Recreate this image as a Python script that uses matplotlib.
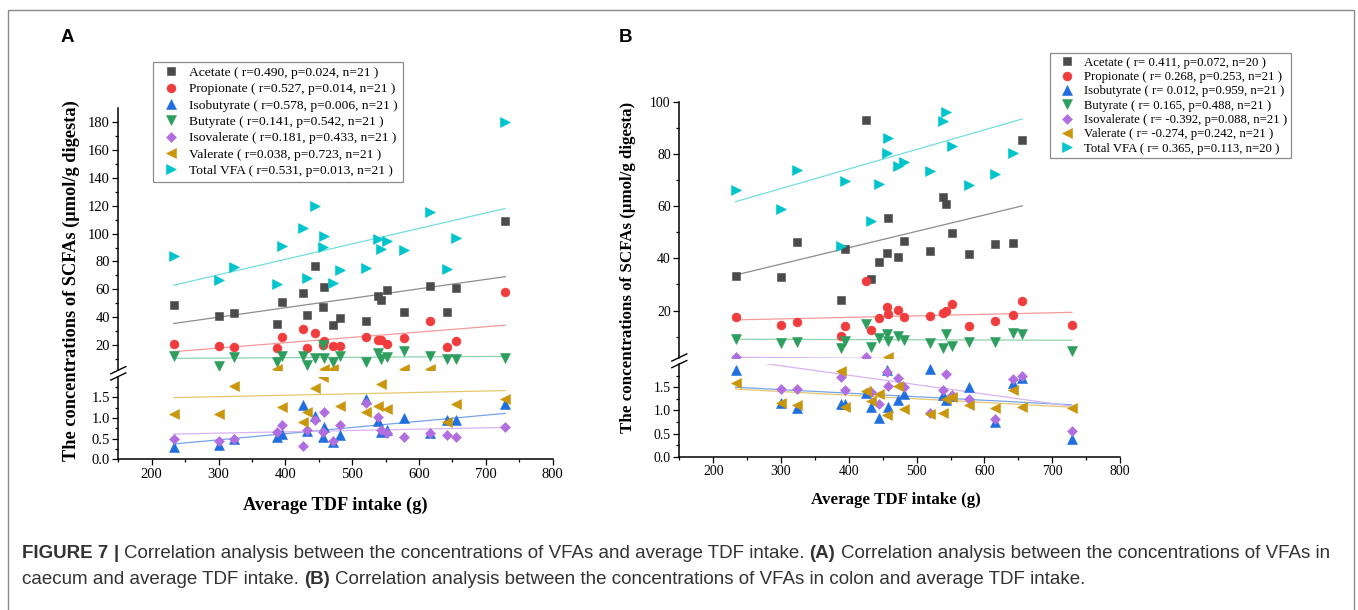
import numpy as np
import matplotlib
matplotlib.use('Agg')
import matplotlib.pyplot as plt
from matplotlib.lines import Line2D
from matplotlib.patches import Rectangle
from matplotlib.ticker import MultipleLocator, FixedLocator, FormatStrFormatter
from matplotlib import font_manager

W, H = 1358, 610
nan = np.nan

intake = [233, 300, 323, 388, 395, 426, 433, 445, 456, 458, 472,
          481, 520, 539, 543, 552, 577, 616, 642, 656, 729]

series = ['Acetate', 'Propionate', 'Isobutyrate', 'Butyrate',
          'Isovalerate', 'Valerate', 'Total VFA']

# A: caecum
a_acetate = [48.6, 40.7, 42.8, 34.9, 50.9, 57.6, 41.8, 76.8, 47.1, 61.5, 34.4,
             39.7, 37.5, 55.2, 52.1, 59.8, 43.5, 62.6, 43.5, 61.2, 108.8]
a_propionate = [21.1, 19.5, 18.9, 17.7, 25.6, 31.6, 18.0, 29.0, 20.0, 23.0, 19.6,
                19.6, 26.0, 23.7, 23.7, 20.8, 24.9, 37.3, 18.9, 23.0, 57.8]
a_isobutyrate = [0.30, 0.35, 0.48, 0.55, 0.61, 1.31, 0.69, 1.05, 0.55, 0.77, 0.41,
                 0.58, 1.45, 0.92, 0.67, 0.71, 0.99, 0.63, 0.95, 0.95, 1.34]
a_butyrate = [12.2, 5.0, 11.7, 8.1, 12.2, 12.4, 5.7, 10.5, 19.8, 10.5, 7.7,
              12.2, 7.7, 14.1, 9.8, 11.7, 15.8, 12.2, 9.8, 10.0, 10.5]
a_isovalerate = [0.48, 0.45, 0.48, 0.67, 0.83, 0.32, 0.71, 0.95, 0.67, 1.14, 0.45,
                 0.83, 1.35, 1.03, 0.71, 0.63, 0.53, 0.63, 0.59, 0.53, 0.77]
a_valerate = [1.09, 1.09, 1.78, 2.6, 1.27, 0.90, 1.15, 1.73, 1.98, 2.6, 2.6,
              1.29, 1.15, 1.29, 1.83, 1.22, 2.6, 2.6, 0.89, 1.33, 1.45]
a_total = [83.9, 66.7, 76.3, 63.8, 91.3, 103.8, 67.9, 120.0, 90.6, 98.5, 64.3,
           73.9, 75.1, 96.1, 89.0, 94.7, 88.2, 115.3, 74.6, 97.1, 180.3]
a_labels = ['Acetate ( r=0.490, p=0.024, n=21 )',
            'Propionate ( r=0.527, p=0.014, n=21 )',
            'Isobutyrate ( r=0.578, p=0.006, n=21 )',
            'Butyrate ( r=0.141, p=0.542, n=21 )',
            'Isovalerate ( r=0.181, p=0.433, n=21 )',
            'Valerate ( r=0.038, p=0.723, n=21 )',
            'Total VFA ( r=0.531, p=0.013, n=21 )']
# fitted line value at first and last intake
a_fit_start = [35.5, 15.3, 0.37, 10.5, 0.61, 1.49, 63.0]
a_fit_end = [69.1, 34.3, 1.11, 11.9, 0.77, 1.66, 118.0]

# B: colon
b_acetate = [33.2, 33.0, 46.4, 24.0, 43.6, 92.9, 32.0, 38.6, 42.2, 55.3, 40.6,
             46.5, 42.8, 63.6, 60.7, 49.8, 41.8, 45.4, 45.9, 85.2, nan]
b_propionate = [17.4, 14.6, 15.5, 10.1, 13.9, 31.4, 12.5, 17.0, 21.2, 18.7, 20.2,
                17.4, 18.0, 19.2, 19.8, 22.5, 14.2, 16.1, 18.4, 23.6, 14.6]
b_isobutyrate = [1.87, 1.17, 1.05, 1.14, 1.13, 1.38, 1.08, 0.84, 1.87, 1.08, 1.22,
                 1.35, 1.89, 1.34, 1.23, 1.31, 1.51, 0.74, 1.59, 1.69, 0.38]
b_butyrate = [9.0, 7.4, 8.0, 5.8, 8.3, 14.7, 6.1, 9.3, 10.9, 8.3, 10.2,
              8.7, 7.7, 5.7, 10.9, 6.3, 8.0, 8.0, 11.4, 11.0, 4.5]
b_isovalerate = [2.3, 1.46, 1.46, 1.73, 1.43, 2.3, 1.40, 1.13, 1.83, 1.52, 1.69,
                 1.50, 0.95, 1.44, 1.79, 1.33, 1.24, 0.81, 1.68, 1.75, 0.55]
b_valerate = [1.59, 1.17, 1.12, 1.86, 1.08, 1.42, 1.21, 1.35, 0.90, 2.3, 1.52,
              1.02, 0.92, 0.95, 1.24, 1.28, 1.12, 1.06, 1.44, 1.08, 1.06]
b_total = [66.2, 59.0, 73.8, 44.8, 69.7, 143.0, 54.4, 68.4, 80.2, 86.0, 75.5,
           77.0, 73.6, 92.6, 96.1, 83.0, 68.0, 72.2, 80.5, 123.0, nan]
b_labels = ['Acetate ( r= 0.411, p=0.072, n=20 )',
            'Propionate ( r= 0.268, p=0.253, n=21 )',
            'Isobutyrate ( r= 0.012, p=0.959, n=21 )',
            'Butyrate ( r= 0.165, p=0.488, n=21 )',
            'Isovalerate ( r= -0.392, p=0.088, n=21 )',
            'Valerate ( r= -0.274, p=0.242, n=21 )',
            'Total VFA ( r= 0.365, p=0.113, n=20 )']
b_fit_start = [33.6, 16.4, 1.50, 9.0, 2.1, 1.46, 61.7]
b_fit_end = [60.1, 19.3, 1.12, 8.6, 1.09, 1.07, 93.4]

markers = ['s', 'o', '^', 'v', 'D', '<', '>']
msizes = [5.8, 6.4, 7.0, 7.0, 5.2, 7.0, 7.0]
colors = ['#4b4b4b', '#f03c3c', '#1f6fdf', '#2e9e5e', '#b06ee0', '#c9960c', '#00c4cc']
fit_colors = ['#8c8c8c', '#f59a9a', '#74a3ea', '#8fd3ab', '#d9b3f2', '#e6c76e', '#74dde1']

SERIF = 'Liberation Serif'
plt.rcParams['font.family'] = SERIF

fig = plt.figure(figsize=(W / 100, H / 100), dpi=100)


def px_axes(left, right, top, bottom):
    return fig.add_axes([left / W, 1 - bottom / H, (right - left) / W, (bottom - top) / H])


def style(ax, tick_size):
    for s in ['top', 'right']:
        ax.spines[s].set_visible(False)
    for s in ['left', 'bottom']:
        ax.spines[s].set_linewidth(1.1)
    ax.tick_params(which='major', direction='out', length=4, width=0.9,
                   labelsize=tick_size, pad=2)
    ax.tick_params(which='minor', direction='out', length=2.4, width=0.9)
    ax.set_xlim(150, 800)
    ax.xaxis.set_major_locator(MultipleLocator(100))
    ax.xaxis.set_minor_locator(MultipleLocator(50))
    ax.patch.set_alpha(0)


def panel(geom, data, fit_start, fit_end, up_lim, up_major, low_lim, tick_size):
    left, right, up_top, up_bot, lo_top, lo_bot = geom
    up = px_axes(left, right, up_top, up_bot)
    lo = px_axes(left, right, lo_top, lo_bot)
    for ax in (up, lo):
        style(ax, tick_size)
    up.spines['bottom'].set_visible(False)
    up.tick_params(axis='x', which='both', bottom=False, labelbottom=False)
    up.set_ylim(*up_lim)
    up.yaxis.set_major_locator(FixedLocator(up_major))
    up.yaxis.set_minor_locator(FixedLocator([v - up_major[0] / 2 for v in up_major]))
    lo.set_ylim(*low_lim)
    lo.yaxis.set_major_locator(FixedLocator([0.0, 0.5, 1.0, 1.5]))
    lo.yaxis.set_minor_locator(FixedLocator([0.25, 0.75, 1.25, 1.75]))
    lo.yaxis.set_major_formatter(FormatStrFormatter('%.1f'))

    cut = low_lim[1]
    x = np.array(intake, dtype=float)
    handles = []
    for i, vals in enumerate(data):
        y = np.array(vals, dtype=float)
        ok = ~np.isnan(y)
        xs = [x[ok].min(), x[ok].max()]
        fy = [fit_start[i], fit_end[i]]
        if max(fy) > cut:
            up.plot(xs, fy, color=fit_colors[i], lw=0.9, zorder=2)
        if min(fy) < cut:
            lo.plot(xs, fy, color=fit_colors[i], lw=0.9, zorder=2)
        kw = dict(ls='none', marker=markers[i], ms=msizes[i], color=colors[i],
                  mec=colors[i], mew=0.4, zorder=3 + i)
        hi = ok & (y > cut)
        h, = up.plot(x[hi], y[hi], **kw)
        lo.plot(x[ok & ~hi], y[ok & ~hi], **kw)
        handles.append(h)

    # break marks on the y-axis
    for yb in (up_bot, lo_top):
        fig.add_artist(Line2D([(left - 7.5) / W, (left + 7.5) / W],
                              [1 - (yb + 3.6) / H, 1 - (yb - 3.6) / H],
                              color='black', lw=1.0, transform=fig.transFigure))
    return handles


data_a = [a_acetate, a_propionate, a_isobutyrate, a_butyrate, a_isovalerate, a_valerate, a_total]
data_b = [b_acetate, b_propionate, b_isobutyrate, b_butyrate, b_isovalerate, b_valerate, b_total]

ha = panel((118.3, 552.7, 108.1, 370.2, 376.5, 459.3), data_a, a_fit_start, a_fit_end,
           (2.0, 190.0), [20, 40, 60, 80, 100, 120, 140, 160, 180], (0, 2.0), 10.5)
hb = panel((679.3, 1120.0, 101.7, 357.5, 364.1, 456.7), data_b, b_fit_start, b_fit_end,
           (2.0, 100.0), [20, 40, 60, 80, 100], (0, 2.0), 9.9)

ylab = 'The concentrations of SCFAs (\u03bcmol/g digesta)'
xlab = 'Average TDF intake (g)'
fa = dict(family=SERIF, fontweight='bold', fontsize=13.2)
fb = dict(family=SERIF, fontweight='bold', fontsize=12.2)
fig.text(71 / W, 1 - 281 / H, ylab, rotation=90, ha='center', va='center', **fa)
fig.text(628 / W, 1 - 267 / H, ylab, rotation=90, ha='center', va='center', **fb)
fig.text(335 / W, 1 - 505 / H, xlab, ha='center', va='center', **fa)
fig.text(896 / W, 1 - 500 / H, xlab, ha='center', va='center', **fb)

fig.text(67 / W, 1 - 38 / H, 'A', family='Liberation Sans', fontweight='bold',
         fontsize=13.5, ha='center', va='center')
fig.text(626 / W, 1 - 38 / H, 'B', family='Liberation Sans', fontweight='bold',
         fontsize=13.5, ha='center', va='center')

leg_a = fig.legend(ha, a_labels, loc='upper left', bbox_to_anchor=(153 / W, 1 - 62 / H),
                   bbox_transform=fig.transFigure, borderaxespad=0, frameon=True,
                   fancybox=False, edgecolor='#6e6e6e', prop=dict(family=SERIF, size=9.7),
                   handlelength=1.9, handletextpad=0.45, labelspacing=0.29, borderpad=0.35)
leg_a.get_frame().set_linewidth(0.9)
leg_b = fig.legend(hb, b_labels, loc='upper left', bbox_to_anchor=(1050 / W, 1 - 53 / H),
                   bbox_transform=fig.transFigure, borderaxespad=0, frameon=True,
                   fancybox=False, edgecolor='#6e6e6e', prop=dict(family=SERIF, size=9.15),
                   handlelength=2.0, handletextpad=0.4, labelspacing=0.18, borderpad=0.3)
leg_b.get_frame().set_linewidth(0.9)

# outer frame
fig.add_artist(Rectangle((8 / W, 1 - 612 / H), (1354 - 8) / W, (612 - 10) / H,
                         fill=False, edgecolor='#8a8a8a', lw=1.0, transform=fig.transFigure))

# caption
avail = {f.name for f in font_manager.fontManager.ttflist}
cap_family = 'Liberation Sans Narrow' if 'Liberation Sans Narrow' in avail else 'Liberation Sans'
line1 = [('FIGURE 7', 'bold'), ('|', 'bold'),
         ('Correlation analysis between the concentrations of VFAs and average TDF intake.', 'normal'),
         ('(A)', 'bold'),
         ('Correlation analysis between the concentrations of VFAs in', 'normal')]
line2 = [('caecum and average TDF intake.', 'normal'), ('(B)', 'bold'),
         ('Correlation analysis between the concentrations of VFAs in colon and average TDF intake.',
          'normal')]

renderer = fig.canvas.get_renderer()


def text_w(s, w, size):
    t = fig.text(0, 0, s, family=cap_family, fontweight=w, fontsize=size)
    wd = t.get_window_extent(renderer).width
    t.remove()
    return wd


def put_line(parts, y, size):
    gap = text_w('x x', 'normal', size) - text_w('xx', 'normal', size)
    x = 22.0
    for s, w in parts:
        t = fig.text(x / W, 1 - y / H, s, family=cap_family, fontweight=w, fontsize=size,
                     color='#333333', va='center', ha='left')
        x += t.get_window_extent(renderer).width + gap


target = 1335 - 22
base = 10.0
gap0 = text_w('x x', 'normal', base) - text_w('xx', 'normal', base)
tot = sum(text_w(s, w, base) for s, w in line1) + gap0 * (len(line1) - 1)
cap_size = base * target / tot
put_line(line1, 553, cap_size)
put_line(line2, 580, cap_size)

fig.savefig('out.png', dpi=100)
